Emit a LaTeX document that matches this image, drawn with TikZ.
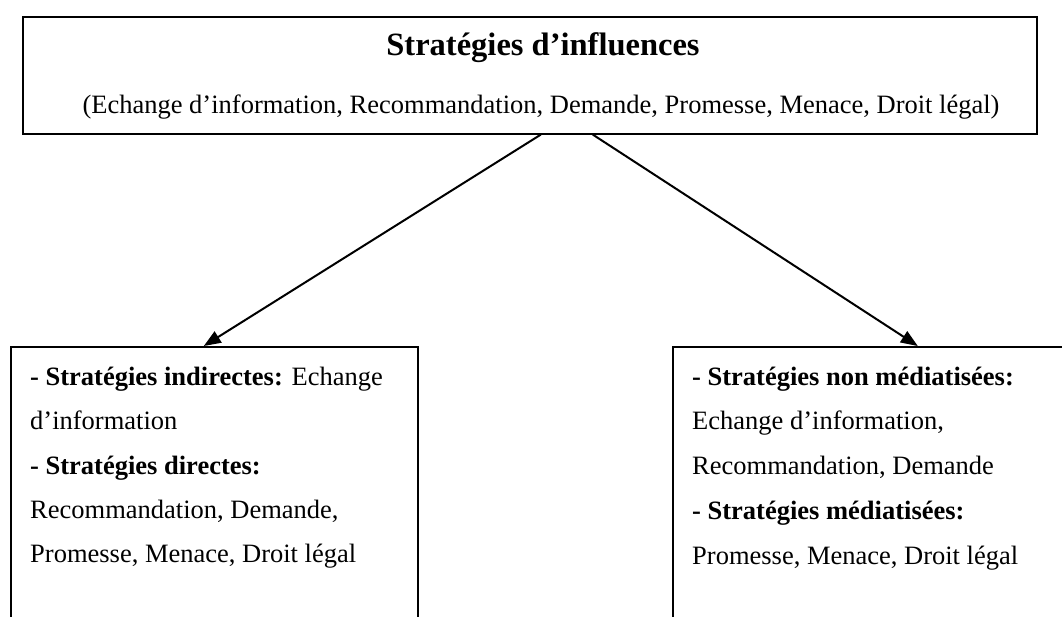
\documentclass[tikz,border=0pt]{standalone}
\usepackage{fontspec}
\setmainfont{Liberation Serif}
\usetikzlibrary{arrows.meta}
\begin{document}
\begin{tikzpicture}[x=1pt,y=-1pt,
  box/.style={draw,line width=1.6pt,inner sep=0pt,anchor=north west},
  body/.style={font=\fontsize{26.5}{30}\selectfont,inner sep=0pt,anchor=base west},
  titlef/.style={font=\fontsize{32.5}{36}\selectfont\bfseries,inner sep=0pt,anchor=base},
  arr/.style={line width=2pt,-{Triangle[length=17pt,width=13pt]}}]
\useasboundingbox (0,0) rectangle (1062,616);
\fill[white] (0,0) rectangle (1062,616);
% top box
\node[box,minimum width=1014pt,minimum height=117pt] (top) at (22,16) {};
\node[titlef] (title) at (543,55) {Stratégies d’influences};
\node[body,anchor=base] (sub) at (541,113) {(Echange d’information, Recommandation, Demande, Promesse, Menace, Droit légal)};
% lower boxes
\node[box,minimum width=407pt,minimum height=290pt] (left) at (10,346) {};
\node[box,minimum width=400pt,minimum height=290pt] (right) at (672,346) {};
% left text
\node[body] (l1) at (30,385) {\textbf{- Stratégies indirectes:} Echange};
\node[body] (l2) at (30,429) {d’information};
\node[body] (l3) at (30,474) {\textbf{- Stratégies directes:}};
\node[body] (l4) at (30,518) {Recommandation, Demande,};
\node[body] (l5) at (30,562) {Promesse, Menace, Droit légal};
% right text
\node[body] (r1) at (692,385) {\textbf{- Stratégies non médiatisées:}};
\node[body] (r2) at (692,429) {Echange d’information,};
\node[body] (r3) at (692,474) {Recommandation, Demande};
\node[body] (r4) at (692,519) {\textbf{- Stratégies médiatisées:}};
\node[body] (r5) at (692,564) {Promesse, Menace, Droit légal};
% arrows
\draw[arr] ([xshift=11pt]top.south) -- ([xshift=-10.5pt]left.north);
\draw[arr] ([xshift=63pt]top.south) -- ([xshift=45pt]right.north);
\end{tikzpicture}
\end{document}
